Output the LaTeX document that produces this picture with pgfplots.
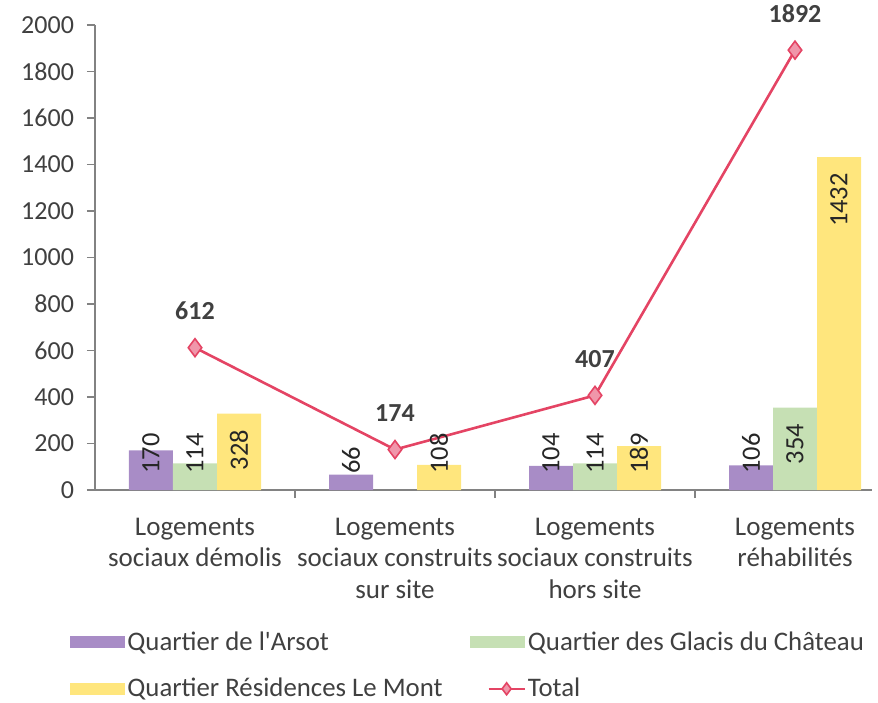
\documentclass[border=0pt]{standalone}
\usepackage{pgfplots}
\pgfplotsset{compat=1.18}
\usepackage{graphicx}
\usepackage{fontspec}
\setmainfont{Carlito}
\definecolor{cPurple}{RGB}{168,140,198}
\definecolor{cGreen}{RGB}{198,224,180}
\definecolor{cYellow}{RGB}{255,230,125}
\definecolor{cLine}{RGB}{228,68,100}
\definecolor{cMark}{RGB}{240,150,170}
\definecolor{cText}{RGB}{64,64,64}
\definecolor{cAxis}{RGB}{130,130,130}
\pgfplotsset{
  barlbl/.style={
    nodes near coords={\rotatebox{90}{\pgfmathprintnumber{\pgfplotspointmeta}}},
    visualization depends on={rawy \as \rawy},
    every node near coord/.append style={inner sep=0pt, font=\fontsize{13.2}{15}\selectfont, text=black!85,
      /utils/exec={\ifdim\rawy pt>300pt \def\lblanc{north}\def\lblsh{-8pt}\else\def\lblanc{south}\pgfmathsetlengthmacro\lblsh{8pt-\rawy*0.11625pt}\fi},
      anchor=\lblanc, yshift=\lblsh, xshift=#1},
  },
  barleg/.style={legend image code/.code={\fill[##1,draw=none] (0pt,-3pt) rectangle (27.5pt,3pt);}},
  lineleg/.style={legend image code/.code={\draw[##1] (9.5pt,0pt) -- (27.5pt,0pt); \path[##1, only marks, mark size=3pt] plot coordinates {(18.5pt,0pt)};}},
}
\begin{document}
\begin{tikzpicture}
\begin{axis}[
  at={(0,0)}, anchor=south west,
  scale only axis, width=388.5pt, height=232.5pt,
  xmin=0.5, xmax=4.385, ymin=0, ymax=2000,
  axis x line=bottom, axis y line=left,
  axis line style={draw=cAxis, line width=0.8pt, -},
  tick align=outside,
  ytick={0,200,...,2000},
  major tick length=4pt, minor tick length=4pt,
  tick style={draw=cAxis, line width=0.6pt},
  xtick={1,2,3,4},
  minor xtick={1.5,2.5,3.5},
  major x tick style={draw=none},
  xticklabels={Logements\\sociaux démolis, Logements\\sociaux construits\\sur site, Logements\\sociaux construits\\hors site, Logements\\réhabilités},
  xticklabel style={align=center, text=cText, font=\fontsize{13.5}{15.7}\selectfont, yshift=-6.5pt},
  yticklabel style={text=cText, font=\fontsize{13}{15}\selectfont, xshift=-3pt},
  /pgf/number format/assume math mode=true,
  /pgf/number format/set thousands separator={},
  clip=false,
  legend columns=2,
  legend cell align=left,
  legend style={at={(axis description cs:0,0)}, anchor=north west, xshift=-12.5pt, yshift=-69.5pt,
    draw=none, fill=none, inner sep=0pt, font=\fontsize{13.4}{15}\selectfont, text=cText,
    row sep=10.5pt, nodes={inner sep=1pt},
    /tikz/every even column/.append style={column sep=12.5pt}},
]
\addplot[ybar, bar width=22pt, bar shift=-22pt, fill=cPurple, draw=none, barlbl={-22pt}, barleg]
  coordinates {(1,170) (2,66) (3,104) (4,106)};
\addlegendentry{Quartier de l\textquotesingle Arsot}
\addplot[ybar, bar width=22pt, bar shift=0pt, fill=cGreen, draw=none, barlbl={0pt}, barleg]
  coordinates {(1,114) (3,114) (4,354)};
\addlegendentry{Quartier des Glacis du Château}
\addplot[ybar, bar width=22pt, bar shift=22pt, fill=cYellow, draw=none, barlbl={22pt}, barleg]
  coordinates {(1,328) (2,108) (3,189) (4,1432)};
\addlegendentry{Quartier Résidences Le Mont}
\addplot[sharp plot, color=cLine, line width=1.3pt, mark=diamond*, mark size=4.5pt,
  mark options={fill=cMark, draw=cLine, line width=0.8pt},
  nodes near coords,
  every node near coord/.append style={font=\bfseries\fontsize{13}{15}\selectfont, text=cText, anchor=south, inner sep=0pt, yshift=13.5pt},
  lineleg]
  coordinates {(1,612) (2,174) (3,407) (4,1892)};
\addlegendentry{Total}
\end{axis}
\pgfresetboundingbox
\path[use as bounding box] (-47.5pt,-106pt) rectangle (391.5pt,245pt);
\end{tikzpicture}
\end{document}
